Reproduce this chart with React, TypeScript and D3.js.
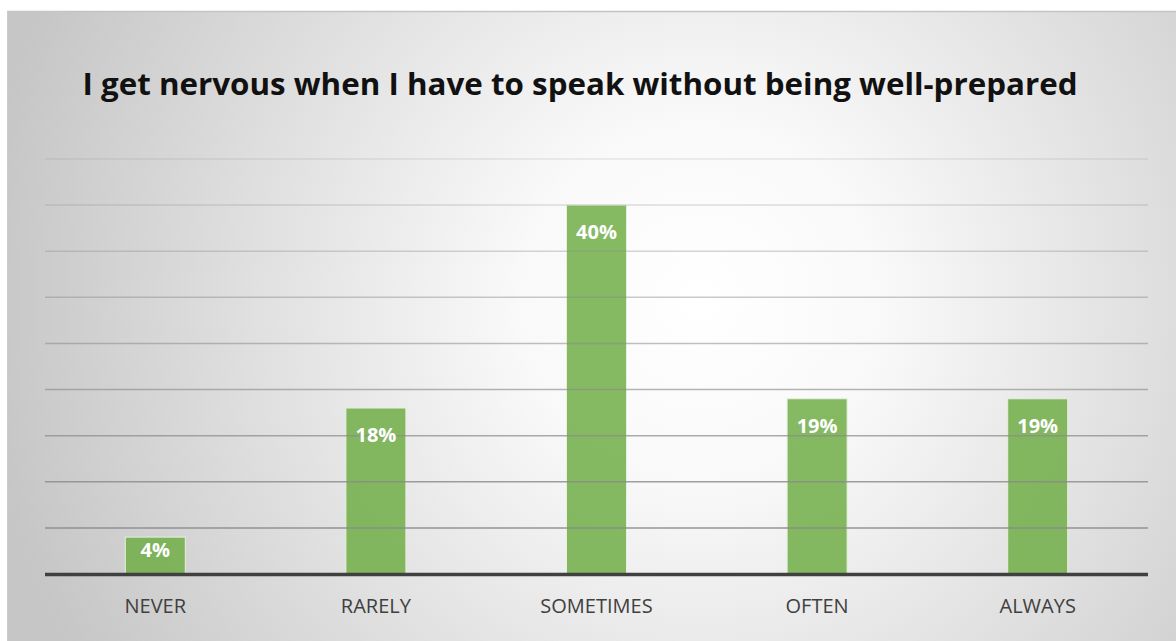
import React from "react";
import * as d3 from "d3";

const categories = ["NEVER", "RARELY", "SOMETIMES", "OFTEN", "ALWAYS"];
const values = [4, 18, 40, 19, 19];
const labels = ["4%", "18%", "40%", "19%", "19%"];
const yTicks = [0, 5, 10, 15, 20, 25, 30, 35, 40, 45];
const title = "I get nervous when I have to speak without being well-prepared";

const W = 1176;
const H = 641;

export default function App() {
  const x = d3.scaleBand<string>().domain(categories).range([45, 1148]).padding(0);
  const y = d3.scaleLinear().domain([0, 45]).range([574, 159]);
  const barW = 60;

  return (
    <svg
      width={W}
      height={H}
      style={{ position: "absolute", left: 0, top: 0 }}
      xmlns="http://www.w3.org/2000/svg"
    >
      <defs>
        <radialGradient id="bg" gradientUnits="userSpaceOnUse" cx={700} cy={300} r={720}>
          <stop offset="0" stopColor="#ffffff" />
          <stop offset="0.25" stopColor="#f9f9f9" />
          <stop offset="1" stopColor="#c6c6c6" />
        </radialGradient>
      </defs>
      <rect x={0} y={0} width={W} height={H} fill="#ffffff" />
      <rect x={7} y={11} width={W - 7} height={H - 11} fill="url(#bg)" />
      <line x1={7} x2={W} y1={11.5} y2={11.5} stroke="#c4c4c4" strokeWidth={1.5} />
      <line x1={7.5} x2={7.5} y1={11} y2={H} stroke="#cccccc" strokeWidth={1} />

      <text
        x={580}
        y={95}
        textAnchor="middle"
        fontFamily="'Open Sans', sans-serif"
        fontWeight={700}
        fontSize={30}
        fill="#111111"
        textLength={995}
        lengthAdjust="spacingAndGlyphs"
      >
        {title}
      </text>

      {values.map((v, i) => {
        const c = categories[i];
        const cx = (x(c) as number) + x.bandwidth() / 2;
        const top = y(v);
        const h = y(0) - top;
        return (
          <rect
            key={c}
            x={cx - barW / 2}
            y={top}
            width={barW}
            height={h}
            fill="#70ad47"
            fillOpacity={0.85}
            stroke="#e6f0de"
            strokeWidth={1}
          />
        );
      })}

      {yTicks.slice(1).map((t, i) => (
        <line
          key={t}
          x1={45}
          x2={1148}
          y1={y(t)}
          y2={y(t)}
          stroke="#8a8a8a"
          strokeWidth={1.5}
          strokeOpacity={Math.max(0.15, 0.9 - i * 0.09)}
        />
      ))}

      <line x1={45} x2={1148} y1={574.5} y2={574.5} stroke="#404040" strokeWidth={3.5} />

      {values.map((v, i) => {
        const c = categories[i];
        const cx = (x(c) as number) + x.bandwidth() / 2;
        const top = y(v);
        const h = y(0) - top;
        const cy = top + Math.min(27, h / 3);
        return (
          <text
            key={c}
            x={cx}
            y={cy}
            dy="0.36em"
            textAnchor="middle"
            fontFamily="'Open Sans', sans-serif"
            fontWeight={700}
            fontSize={20}
            fill="#ffffff"
          >
            {labels[i]}
          </text>
        );
      })}

      {categories.map((c) => {
        const cx = (x(c) as number) + x.bandwidth() / 2;
        return (
          <text
            key={c}
            x={cx}
            y={606}
            dy="0.36em"
            textAnchor="middle"
            fontFamily="'Open Sans', sans-serif"
            fontSize={20}
            fill="#404040"
          >
            {c}
          </text>
        );
      })}
    </svg>
  );
}
